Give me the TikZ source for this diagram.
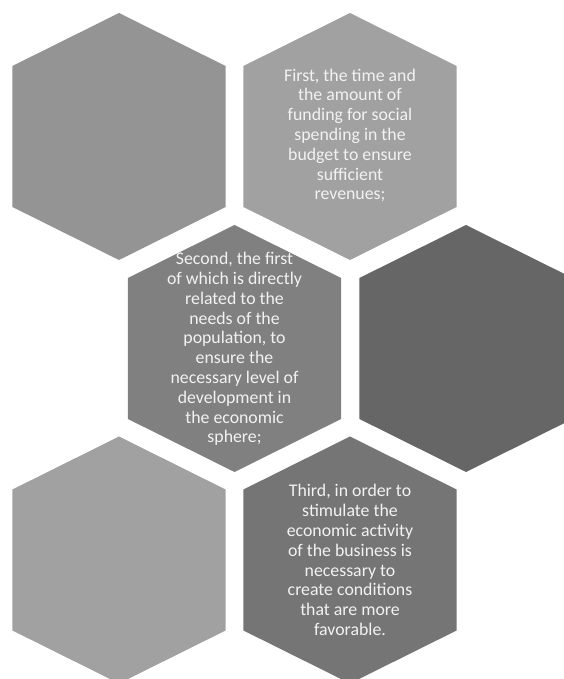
\documentclass[tikz,border=0pt]{standalone}
\usepackage{fontspec}
\setmainfont{Carlito}
\begin{document}
\begin{tikzpicture}[x=1pt,y=1pt,
  celltext/.style={text=white!95!black, align=center, inner sep=0pt,
    font=\fontsize{17.8}{19.8}\selectfont}]
% pointy-topped hexagon: half-width 106.6, half-side 70.5, tip 53
\newcommand\hexcell[3]{%
  \fill[#3] (#1,#2) ++(0,123.5) -- ++(106.6,-53) -- ++(0,-141)
    -- ++(-106.6,-53) -- ++(-106.6,53) -- ++(0,141) -- cycle;}
\useasboundingbox (0,0) rectangle (564,679);
\clip (0,0) rectangle (564,679);
\definecolor{cellA}{gray}{0.58}
\definecolor{cellB}{gray}{0.63}
\definecolor{cellC}{gray}{0.50}
\definecolor{cellD}{gray}{0.40}
\definecolor{cellE}{gray}{0.63}
\definecolor{cellF}{gray}{0.46}
\hexcell{119}{542.5}{cellA}
\hexcell{350}{542.5}{cellB}
\hexcell{234.5}{330.5}{cellC}
\hexcell{466}{330.5}{cellD}
\hexcell{119}{119}{cellE}
\hexcell{350}{119}{cellF}
\node[celltext] (first) at (350,543.5) {First, the time and\\the amount of\\funding for social\\spending in the\\budget to ensure\\sufficient\\revenues;};
\node[celltext] (second) at (234.5,330) {Second, the first\\of which is directly\\related to the\\needs of the\\population, to\\ensure the\\necessary level of\\development in\\the economic\\sphere;};
\node[celltext] (third) at (350,119) {Third, in order to\\stimulate the\\economic activity\\of the business is\\necessary to\\create conditions\\that are more\\favorable.};
\end{tikzpicture}
\end{document}
